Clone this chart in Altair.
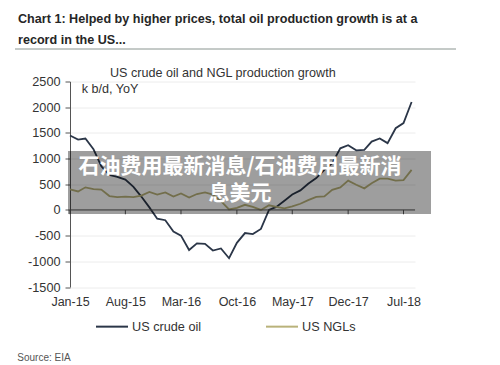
import altair as alt
import pandas as pd

# ---- data ----
months = pd.date_range("2015-01-01", periods=44, freq="MS").strftime("%Y-%m-%d").tolist()
crude = [1450, 1370, 1390, 1180, 850, 680, 645, 590, 450, 260, 50, -170, -200, -420, -500,
         -780, -650, -660, -790, -750, -940, -640, -450, -470, -370, 0, 60, 180, 300, 380,
         510, 620, 780, 910, 1200, 1260, 1160, 1170, 1330, 1390, 1300, 1590, 1690, 2100]
ngl = [400, 360, 440, 405, 395, 270, 250, 260, 250, 280, 350, 300, 340, 260, 320,
       240, 310, 340, 300, 170, 10, 40, 100, 60, 0, 90, 60, 30, 70, 120,
       190, 255, 265, 390, 440, 570, 490, 420, 520, 610, 610, 570, 580, 780]
series_names = ["US crude oil", "US NGLs"]
tick_months = ["2015-01-01", "2015-08-01", "2016-03-01", "2016-10-01",
               "2017-05-01", "2017-12-01", "2018-07-01"]
y_ticks = [-1500, -1000, -500, 0, 500, 1000, 1500, 2000, 2500]

title_lines = ["Chart 1: Helped by higher prices, total oil production growth is at a",
               "record in the US..."]
inner_title = "US crude oil and NGL production growth"
unit_text = "k b/d, YoY"
source_text = "Source: EIA"
wm_lines = ["石油费用最新消息/石油费用最新消", "息美元"]

df = pd.DataFrame({
    "month": months * 2,
    "value": crude + ngl,
    "series": [series_names[0]] * len(months) + [series_names[1]] * len(months),
})

FONT = "Liberation Sans"
CRUDE_C = "#2b3648"
NGL_C = "#b9b27a"
AXIS_C = "#555555"
W, H = 345, 205.5

def dt(s):
    y, m, d = [int(p) for p in s.split("-")]
    return alt.DateTime(year=y, month=m, date=d, utc=True)

xscale = alt.Scale(type="utc", domain=[dt("2015-01-01"), dt("2018-08-14")])
yscale = alt.Scale(domain=[-1500, 2500], nice=False, zero=False)

xaxis = alt.Axis(values=[dt(s) for s in tick_months],
                 labelExpr="utcFormat(datum.value, '%b-%y')",
                 domain=False, ticks=False, grid=False, labelOverlap=False, labelFlush=False,
                 labelPadding=8, labelFont=FONT, labelFontSize=12.5, labelColor="#333333")
yaxis = alt.Axis(values=y_ticks, labelExpr="'' + datum.value", labelOverlap=False,
                 labelFlush=False, tickCount=9,
                 domainColor=AXIS_C, tickColor=AXIS_C,
                 tickSize=5, labelPadding=5, labelFont=FONT, labelFontSize=12.7,
                 labelColor="#333333", grid=True, gridColor="#ececec")

lines = alt.Chart(df).mark_line(strokeWidth=1.8).encode(
    x=alt.X("month:T", scale=xscale, title=None, axis=xaxis),
    y=alt.Y("value:Q", scale=yscale, title=None, axis=yaxis),
    color=alt.Color("series:N",
                    scale=alt.Scale(domain=series_names, range=[CRUDE_C, NGL_C]),
                    legend=alt.Legend(orient="none", legendX=25, legendY=228,
                                      direction="horizontal", title=None,
                                      symbolType="stroke", symbolSize=1024,
                                      symbolStrokeWidth=2, labelFont=FONT,
                                      labelFontSize=12.7, labelColor="#333333",
                                      labelOffset=3, columnPadding=60)),
)

zero_df = pd.DataFrame({"value": [0]})
zero_line = alt.Chart(zero_df).mark_rule(color=AXIS_C, strokeWidth=1).encode(
    y=alt.Y("value:Q", scale=yscale, title=None, axis=yaxis),
    x=alt.value(0), x2=alt.value(W))

ticks_df = pd.DataFrame({"month": tick_months, "value": [0] * len(tick_months),
                         "y1": [-85] * len(tick_months)})
tick_marks = alt.Chart(ticks_df).mark_rule(color=AXIS_C, strokeWidth=1).encode(
    x=alt.X("month:T", scale=xscale, title=None, axis=xaxis),
    y=alt.Y("value:Q", scale=yscale, title=None, axis=yaxis), y2="y1:Q")

def label(text, x, y, size, color="#333333", weight="normal", font=FONT, align="left",
          baseline="alphabetic"):
    return alt.Chart(pd.DataFrame({"t": [text]})).mark_text(
        align=align, baseline=baseline, font=font, fontSize=size, fontWeight=weight,
        color=color).encode(text="t:N", x=alt.value(x), y=alt.value(y))

t1 = label(title_lines[0], -52, -58.5, 12.6, "#262626", "bold")
t2 = label(title_lines[1], -52, -38, 12.6, "#262626", "bold")
hr = alt.Chart(zero_df).mark_rule(color="#8a9590", strokeWidth=1).encode(
    x=alt.value(-55), x2=alt.value(386), y=alt.value(-32.5))
it = label(inner_title, 40, -4.8, 12.6)
ut = label(unit_text, 11.7, 11.8, 12.6)
src = label(source_text, -52.7, 279.5, 10, "#555555")

band = alt.Chart(zero_df).mark_rect(color="#000000", opacity=0.38).encode(
    x=alt.value(-2), x2=alt.value(361), y=alt.value(69.5), y2=alt.value(132.5))
w1 = label(wm_lines[0], 170, 85.5, 21, "#ffffff", "bold", "Noto Sans CJK SC", "center", "middle")
w2 = label(wm_lines[1], 170, 112, 21, "#ffffff", "bold", "Noto Sans CJK SC", "center", "middle")

chart = alt.layer(lines, zero_line, tick_marks, t1, t2, hr, it, ut, src, band, w1, w2).properties(
    width=W, height=H, autosize="none",
    padding={"left": 62, "top": 73.5, "right": 77, "bottom": 76},
    background="#ffffff",
).configure_view(stroke=None)

chart.save("out.html", embed_options={"renderer": "svg", "actions": False})
